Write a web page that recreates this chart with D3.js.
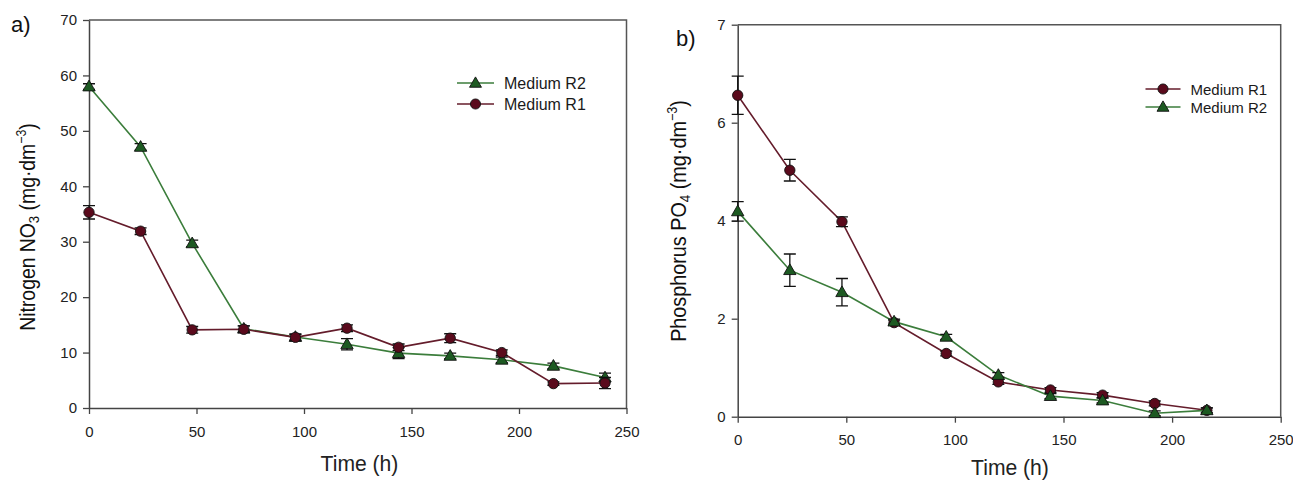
<!DOCTYPE html>
<html><head><meta charset="utf-8">
<script src="https://cdn.jsdelivr.net/npm/d3@7"></script>
<style>
body{margin:0;background:#fff;}
svg text{font-family:"Liberation Sans",Arial,sans-serif;}
</style></head>
<body><svg id="c" width="1293" height="481"></svg>
<script>
// ---- data ----
const timeA = [0,24,48,72,96,120,144,168,192,216,240];
const nitroR2 = [58.0,47.1,29.7,14.3,12.8,11.5,9.9,9.4,8.7,7.6,5.5];
const nitroR2Err = [0.5,0.6,0.6,0.5,0.5,1.0,1.0,0.5,0.5,0.5,0.8];
const nitroR1 = [35.3,31.9,14.1,14.2,12.75,14.4,10.95,12.6,10.0,4.4,4.5];
const nitroR1Err = [1.2,0.6,0.6,0.6,0.6,0.6,0.6,0.8,0.5,0.3,1.0];

const timeB = [0,24,48,72,96,120,144,168,192,216];
const phosR1 = [6.56,5.03,3.98,1.92,1.29,0.71,0.545,0.44,0.27,0.13];
const phosR1Err = [0.39,0.22,0.1,0.05,0.05,0.05,0.05,0.05,0.05,0.05];
const phosR2 = [4.19,2.99,2.54,1.94,1.63,0.85,0.42,0.33,0.07,0.13];
const phosR2Err = [0.2,0.33,0.28,0.05,0.05,0.05,0.05,0.05,0.05,0.05];

const xTicks = [0,50,100,150,200,250];
const yTicksA = [0,10,20,30,40,50,60,70];
const yTicksB = [0,2,4,6,8];
const yTickLabelsB = ["0","2","4","6","7"];

const GREEN_LINE = "#3b7d3b", GREEN_FILL = "#1d5a22";
const RED_LINE = "#641c2b", RED_FILL = "#5a0a1c";

const svg = d3.select("#c");

function panel(o){
  const g = svg.append("g");
  const x = d3.scaleLinear().domain([0,250]).range([o.x0,o.x1]);
  const y = d3.scaleLinear().domain(o.yDomain).range([o.y0,o.y1]);
  // frame (top & right)
  g.append("path").attr("d",`M${o.x0},${o.y1}H${o.x1}V${o.y0}`)
    .attr("fill","none").attr("stroke","#555").attr("stroke-width",1.5);
  const ax = g.append("g").attr("transform",`translate(0,${o.y0})`)
    .call(d3.axisBottom(x).tickValues(xTicks).tickSize(6).tickSizeOuter(0).tickPadding(o.xPad));
  const ay = g.append("g").attr("transform",`translate(${o.x0},0)`)
    .call(d3.axisLeft(y).tickValues(o.yTicks).tickSize(6).tickSizeOuter(0).tickPadding(6)
      .tickFormat((d,i)=>o.yLabels?o.yLabels[i]:d));
  [ax,ay].forEach(a=>{
    a.select(".domain").attr("stroke","#444").attr("stroke-width",1.5);
    a.selectAll(".tick line").attr("stroke","#444").attr("stroke-width",1.3);
    a.selectAll(".tick text").attr("fill","#222").style("font-size","15px").style("font-family","Liberation Sans, Arial, sans-serif");
  });

  function series(t,v,e,lineC,fillC,shape){
    const sg = g.append("g");
    sg.append("path").datum(t.map((d,i)=>[d,v[i]]))
      .attr("d",d3.line().x(d=>x(d[0])).y(d=>y(d[1])))
      .attr("fill","none").attr("stroke",lineC).attr("stroke-width",1.6);
    t.forEach((d,i)=>{
      const cx=x(d), top=y(v[i]+e[i]), bot=y(v[i]-e[i]);
      sg.append("path").attr("d",`M${cx},${top}V${bot}M${cx-6},${top}H${cx+6}M${cx-6},${bot}H${cx+6}`)
        .attr("stroke","#111").attr("stroke-width",1.3).attr("fill","none");
    });
    const sym = d3.symbol().type(shape==="tri"?d3.symbolTriangle:d3.symbolCircle).size(shape==="tri"?66:84);
    sg.selectAll(".m").data(t.map((d,i)=>[d,v[i]])).join("path")
      .attr("transform",d=>`translate(${x(d[0])},${y(d[1])+(shape==="tri"?0.8:0)})`)
      .attr("d",sym).attr("fill",fillC).attr("stroke","#111").attr("stroke-width",0.9);
  }
  o.series.forEach(s=>series(s.t,s.v,s.e,s.lc,s.fc,s.shape));

  // legend
  o.legend.forEach((l,i)=>{
    const ly = o.legY + i*o.legDy;
    g.append("line").attr("x1",o.legX).attr("x2",o.legX+o.legW).attr("y1",ly).attr("y2",ly)
      .attr("stroke",l.lc).attr("stroke-width",1.6);
    const sym = d3.symbol().type(l.shape==="tri"?d3.symbolTriangle:d3.symbolCircle).size(l.shape==="tri"?62:80);
    g.append("path").attr("d",sym).attr("transform",`translate(${o.legX+o.legW/2},${ly+(l.shape==="tri"?0.8:0)})`)
      .attr("fill",l.fc).attr("stroke","#111").attr("stroke-width",0.9);
    g.append("text").attr("x",o.legX+o.legW+10).attr("y",ly+5.5).text(l.name)
      .style("font-size",o.legFont+"px").attr("fill","#1a1a1a");
  });

  // x title
  g.append("text").attr("transform",`translate(${o.xtX},${o.xtY}) scale(0.96,1)`)
    .attr("text-anchor","middle").style("font-size","22px").attr("fill","#222").text("Time (h)");
  // y title
  const yt = g.append("text").attr("transform",`translate(${o.ytX},${o.ytY}) rotate(-90) scale(${o.ytS},1)`)
    .attr("text-anchor","middle").style("font-size","22px").attr("fill","#111");
  o.ytParts.forEach(p=>{
    const ts = yt.append("tspan").text(p[0]);
    if(p[1]==="sub") ts.style("font-size","15px").attr("dy",4);
    else if(p[1]==="sup") ts.style("font-size","14px").attr("dy",-9);
    else if(p[1]==="back") ts.attr("dy",p[2]);
  });
  // panel letter
  g.append("text").attr("x",o.lX).attr("y",o.lY).style("font-size","22px").attr("fill","#111").text(o.letter);
}

panel({
  x0:89, x1:626.5, y0:408, y1:20, yDomain:[0,70], yTicks:yTicksA, xPad:12,
  series:[
    {t:timeA,v:nitroR2,e:nitroR2Err,lc:GREEN_LINE,fc:GREEN_FILL,shape:"tri"},
    {t:timeA,v:nitroR1,e:nitroR1Err,lc:RED_LINE,fc:RED_FILL,shape:"circ"}
  ],
  legend:[{name:"Medium R2",lc:GREEN_LINE,fc:GREEN_FILL,shape:"tri"},
          {name:"Medium R1",lc:RED_LINE,fc:RED_FILL,shape:"circ"}],
  legX:457, legW:37, legY:83, legDy:21, legFont:16,
  xtX:359.5, xtY:471, ytX:35, ytY:227, ytS:0.88,
  ytParts:[["Nitrogen NO"],["3","sub"],[" (mg·dm","back",-4],["−3","sup"],[")","back",9]],
  lX:11, lY:31.5, letter:"a)"
});

panel({
  x0:737.7, x1:1280.7, y0:416.7, y1:24.7, yDomain:[0,8], yTicks:yTicksB, yLabels:yTickLabelsB, xPad:12,
  series:[
    {t:timeB,v:phosR1,e:phosR1Err,lc:RED_LINE,fc:RED_FILL,shape:"circ"},
    {t:timeB,v:phosR2,e:phosR2Err,lc:GREEN_LINE,fc:GREEN_FILL,shape:"tri"}
  ],
  legend:[{name:"Medium R1",lc:RED_LINE,fc:RED_FILL,shape:"circ"},
          {name:"Medium R2",lc:GREEN_LINE,fc:GREEN_FILL,shape:"tri"}],
  legX:1145.5, legW:35, legY:89, legDy:18, legFont:15,
  xtX:1010, xtY:475, ytX:686, ytY:221, ytS:0.9,
  ytParts:[["Phosphorus PO"],["4","sub"],[" (mg·dm","back",-4],["−3","sup"],[")","back",9]],
  lX:676, lY:46, letter:"b)"
});
</script></body></html>
